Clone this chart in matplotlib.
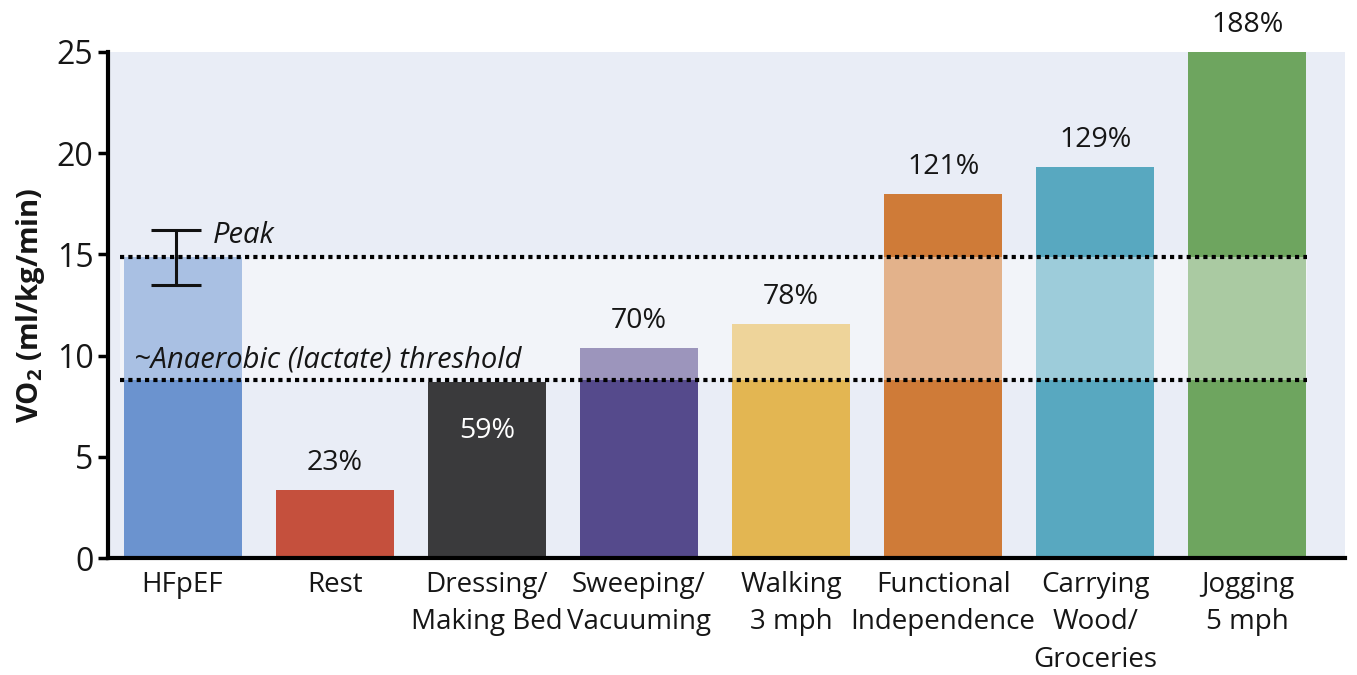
import matplotlib
matplotlib.use('Agg')
import matplotlib.pyplot as plt

# activities and VO2 (ml/kg/min)
activities = ['HFpEF', 'Rest', 'Dressing/\nMaking Bed', 'Sweeping/\nVacuuming',
              'Walking\n3 mph', 'Functional\nIndependence', 'Carrying\nWood/\nGroceries',
              'Jogging\n5 mph']
vo2 = [14.9, 3.35, 8.7, 10.4, 11.55, 18.0, 19.3, 28.0]
pct_labels = ['', '23%', '59%', '70%', '78%', '121%', '129%', '188%']
bar_colors = ['#6b93cf', '#c5503d', '#3a3a3c', '#554a8c',
              '#e3b652', '#cf7b38', '#58a8c0', '#6ea55f']

peak = 14.9
peak_err_lo, peak_err_hi = 13.5, 16.2
threshold = 8.8

plt.rcParams['font.family'] = ['Open Sans', 'DejaVu Sans']
txt_col = '#161616'

fig = plt.figure(figsize=(13.57, 6.75), dpi=100)
ax = fig.add_axes([0.0796, 0.173, 0.9114, 0.750])
ax.set_facecolor('#e9edf6')

x = list(range(len(activities)))
ax.bar(x, vo2, width=0.776, color=bar_colors, zorder=2)

# lighter band between threshold and peak
ax.fill_between([-0.41, 7.39], threshold, peak, color='white', alpha=0.42, lw=0, zorder=3)

# dotted reference lines
ax.hlines([peak, threshold], -0.41, 7.39, colors='black', linestyles=(0, (1, 1)),
          lw=3, zorder=4)

# error bar on HFpEF peak
ax.errorbar(-0.04, peak, yerr=[[peak - peak_err_lo], [peak_err_hi - peak]],
            fmt='none', ecolor='#111111', elinewidth=2.2, capsize=18,
            capthick=2.2, zorder=5)

ax.text(0.2, 15.95, 'Peak', style='italic', fontsize=21, va='center', ha='left',
        color=txt_col, zorder=6)
ax.text(-0.32, 9.8, '~Anaerobic (lactate) threshold', style='italic', fontsize=21,
        va='center', ha='left', color=txt_col, zorder=6)

# percentage labels
for i, (v, lab) in enumerate(zip(vo2, pct_labels)):
    if not lab:
        continue
    if lab == '59%':
        ax.text(i, 6.3, lab, ha='center', va='center', fontsize=20.5, color='white', zorder=6)
    else:
        top = min(v, 25)
        ax.annotate(lab, (i, top), xytext=(0, 19.5), textcoords='offset points',
                    ha='center', va='center', fontsize=20.5, color=txt_col,
                    annotation_clip=False, zorder=6)

ax.set_ylim(0, 25)
ax.set_xlim(-0.49, 7.64)
ax.set_yticks([0, 5, 10, 15, 20, 25])
ax.set_xticks(x)
ax.set_xticklabels(activities, fontsize=20, linespacing=1.45, color=txt_col)
ax.tick_params(axis='y', labelsize=23, width=2.5, length=7, direction='out',
               labelcolor=txt_col)
ax.tick_params(axis='x', length=0, pad=9)
ax.set_ylabel('VO$_\\mathregular{2}$ (ml/kg/min)', fontsize=21, fontweight='bold',
              labelpad=7, color=txt_col)

for s in ['top', 'right']:
    ax.spines[s].set_visible(False)
ax.spines['left'].set_linewidth(3)
ax.spines['bottom'].set_linewidth(3)

fig.savefig('out.png', dpi=100)
